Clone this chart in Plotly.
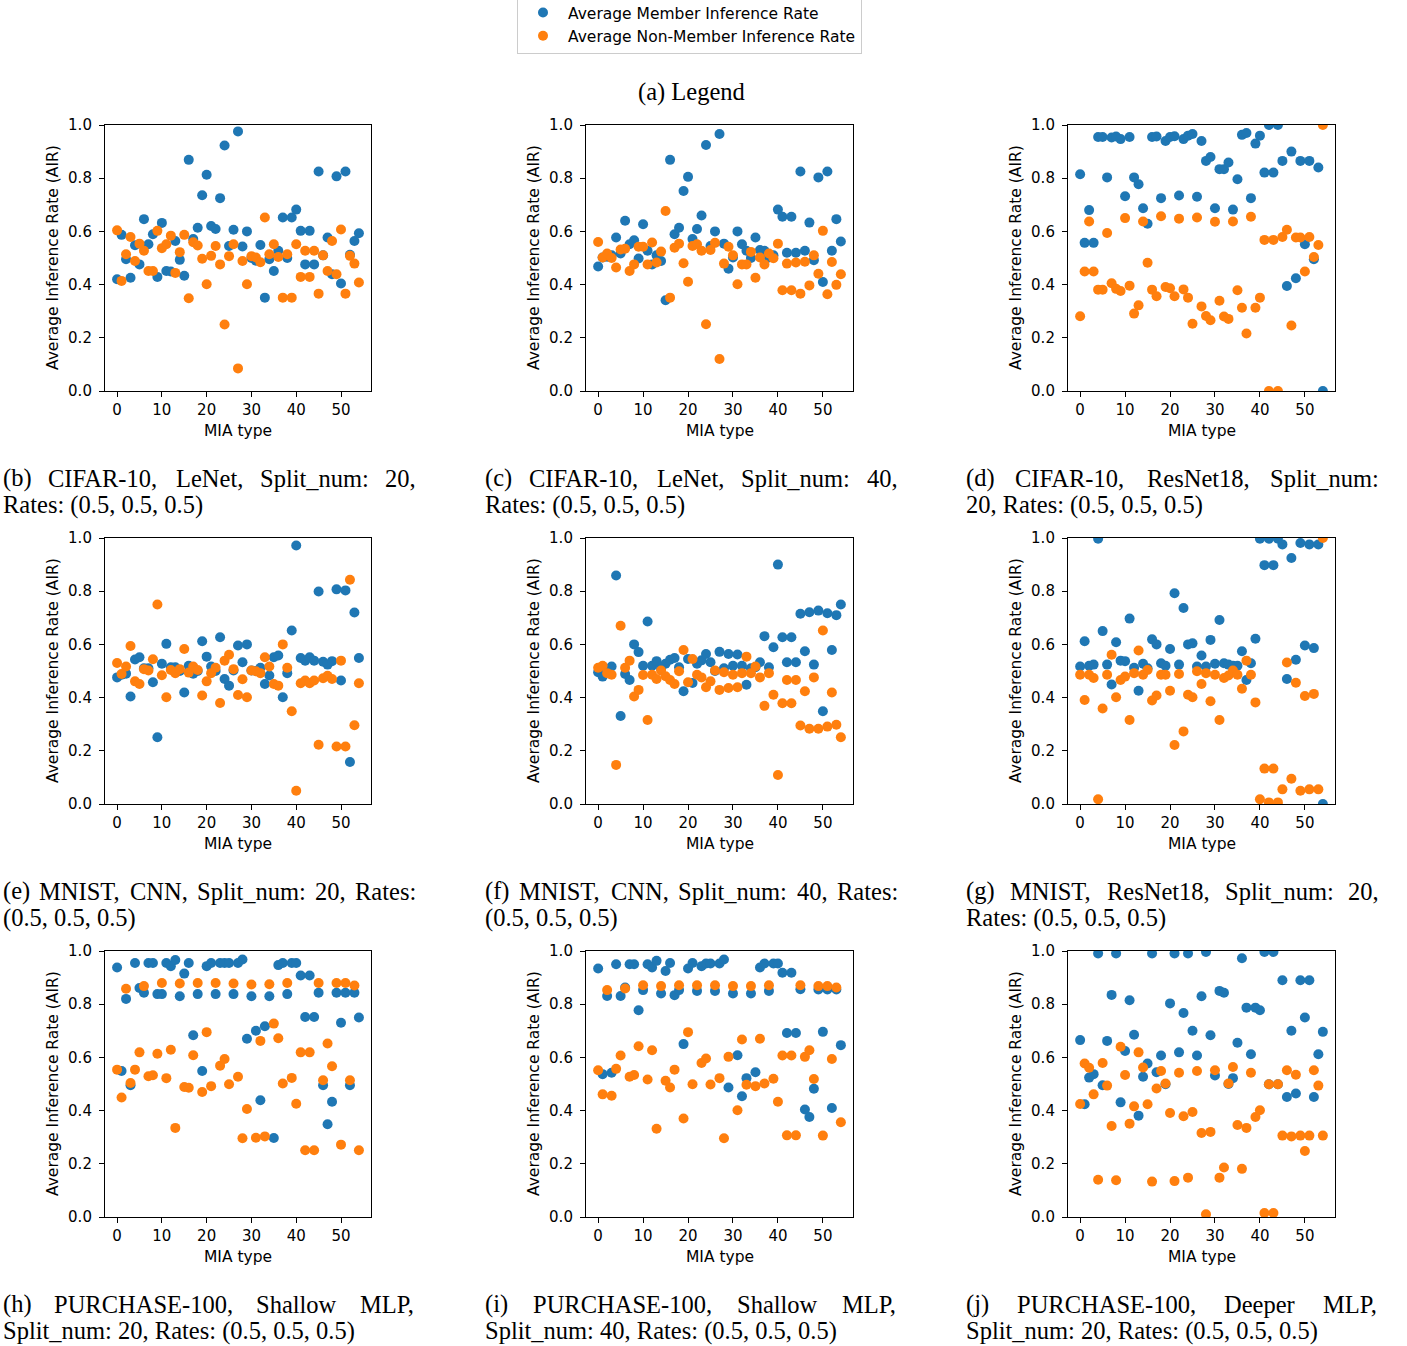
import plotly.graph_objects as go

# ---------------- data ----------------
mia_types = list(range(55))
x_ticks = [0, 10, 20, 30, 40, 50]
y_ticks = [0.0, 0.2, 0.4, 0.6, 0.8, 1.0]

series_names = ["Average Member Inference Rate", "Average Non-Member Inference Rate"]

b_member = [0.42, 0.587, 0.495, 0.426, 0.548, 0.476, 0.646, 0.552, 0.589, 0.429, 0.632, 0.451, 0.449, 0.564, 0.493,
            0.433, 0.869, 0.571, 0.614, 0.736, 0.813, 0.62, 0.609, 0.725, 0.923, 0.545, 0.606, 0.976, 0.543, 0.6,
            0.5, 0.49, 0.549, 0.351, 0.495, 0.451, 0.527, 0.652, 0.5, 0.652, 0.682, 0.602, 0.476, 0.602, 0.476,
            0.825, 0.51, 0.577, 0.439, 0.807, 0.404, 0.825, 0.512, 0.564, 0.593]
b_nonmember = [0.604, 0.414, 0.514, 0.579, 0.489, 0.554, 0.527, 0.451, 0.451, 0.602, 0.537, 0.552, 0.584, 0.444, 0.522,
               0.587, 0.349, 0.559, 0.547, 0.497, 0.401, 0.508, 0.545, 0.476, 0.25, 0.507, 0.552, 0.085, 0.489, 0.401,
               0.507, 0.502, 0.484, 0.652, 0.514, 0.552, 0.504, 0.351, 0.514, 0.351, 0.552, 0.429, 0.527, 0.429, 0.527,
               0.366, 0.51, 0.451, 0.564, 0.439, 0.607, 0.366, 0.508, 0.479, 0.408]

c_member = [0.468, 0.502, 0.505, 0.51, 0.577, 0.517, 0.64, 0.552, 0.567, 0.498, 0.627, 0.527, 0.476, 0.51, 0.489,
            0.341, 0.869, 0.589, 0.614, 0.752, 0.805, 0.571, 0.609, 0.66, 0.925, 0.545, 0.6, 0.966, 0.554, 0.46,
            0.502, 0.6, 0.552, 0.527, 0.5, 0.577, 0.53, 0.527, 0.502, 0.51, 0.682, 0.655, 0.52, 0.655, 0.52,
            0.825, 0.527, 0.633, 0.492, 0.803, 0.41, 0.825, 0.527, 0.646, 0.562]
c_nonmember = [0.56, 0.502, 0.517, 0.50, 0.464, 0.532, 0.535, 0.451, 0.476, 0.542, 0.542, 0.476, 0.558, 0.483, 0.524,
               0.677, 0.351, 0.539, 0.554, 0.48, 0.411, 0.545, 0.552, 0.527, 0.251, 0.53, 0.557, 0.12, 0.479, 0.542,
               0.51, 0.401, 0.476, 0.476, 0.523, 0.426, 0.502, 0.476, 0.517, 0.499, 0.554, 0.379, 0.479, 0.379, 0.483,
               0.366, 0.486, 0.397, 0.51, 0.441, 0.602, 0.364, 0.485, 0.399, 0.439]

d_member = [0.815, 0.557, 0.68, 0.557, 0.955, 0.955, 0.803, 0.953, 0.957, 0.947, 0.732, 0.955, 0.803, 0.777, 0.687,
            0.629, 0.955, 0.957, 0.725, 0.94, 0.955, 0.958, 0.735, 0.947, 0.96, 0.966, 0.73, 0.94, 0.865, 0.88,
            0.687, 0.834, 0.834, 0.859, 0.682, 0.796, 0.963, 0.97, 0.725, 0.93, 0.96, 0.821, 1.0, 0.821, 1.0,
            0.865, 0.395, 0.9, 0.424, 0.865, 0.552, 0.865, 0.495, 0.84, 0.0]
d_nonmember = [0.281, 0.449, 0.637, 0.449, 0.381, 0.381, 0.594, 0.405, 0.384, 0.376, 0.65, 0.396, 0.291, 0.322, 0.637,
               0.482, 0.381, 0.356, 0.657, 0.391, 0.386, 0.356, 0.648, 0.382, 0.351, 0.253, 0.652, 0.318, 0.282, 0.266,
               0.636, 0.339, 0.28, 0.271, 0.637, 0.379, 0.313, 0.216, 0.655, 0.313, 0.351, 0.568, 0.0, 0.568, 0.0,
               0.579, 0.606, 0.246, 0.577, 0.577, 0.449, 0.579, 0.504, 0.549, 1.0]

e_member = [0.476, 0.486, 0.49, 0.404, 0.543, 0.552, 0.51, 0.51, 0.458, 0.251, 0.527, 0.602, 0.514, 0.514, 0.50,
            0.419, 0.52, 0.49, 0.50, 0.612, 0.554, 0.517, 0.50, 0.627, 0.47, 0.445, 0.502, 0.596, 0.533, 0.6,
            0.502, 0.50, 0.512, 0.451, 0.483, 0.552, 0.558, 0.401, 0.492, 0.652, 0.972, 0.549, 0.539, 0.552, 0.539,
            0.799, 0.535, 0.524, 0.537, 0.807, 0.464, 0.803, 0.158, 0.72, 0.549]
e_nonmember = [0.53, 0.489, 0.517, 0.594, 0.461, 0.451, 0.507, 0.502, 0.544, 0.75, 0.484, 0.401, 0.504, 0.492, 0.507,
               0.583, 0.494, 0.517, 0.504, 0.408, 0.461, 0.492, 0.512, 0.38, 0.539, 0.561, 0.507, 0.41, 0.469, 0.401,
               0.502, 0.499, 0.492, 0.552, 0.517, 0.451, 0.445, 0.6, 0.512, 0.349, 0.05, 0.454, 0.464, 0.454, 0.464,
               0.223, 0.473, 0.482, 0.47, 0.216, 0.539, 0.216, 0.843, 0.296, 0.454]

f_member = [0.495, 0.479, 0.50, 0.517, 0.859, 0.331, 0.489, 0.466, 0.6, 0.571, 0.52, 0.686, 0.52, 0.537, 0.51,
            0.527, 0.542, 0.549, 0.514, 0.424, 0.545, 0.455, 0.527, 0.54, 0.564, 0.533, 0.50, 0.572, 0.51, 0.564,
            0.52, 0.562, 0.52, 0.448, 0.51, 0.514, 0.533, 0.631, 0.514, 0.589, 0.9, 0.627, 0.533, 0.627, 0.533,
            0.715, 0.574, 0.721, 0.524, 0.727, 0.349, 0.717, 0.579, 0.71, 0.75]
f_nonmember = [0.512, 0.52, 0.492, 0.486, 0.147, 0.67, 0.512, 0.539, 0.404, 0.429, 0.485, 0.316, 0.486, 0.47, 0.502,
               0.48, 0.466, 0.451, 0.499, 0.579, 0.458, 0.545, 0.486, 0.476, 0.439, 0.461, 0.502, 0.429, 0.495, 0.436,
               0.486, 0.439, 0.492, 0.554, 0.492, 0.517, 0.476, 0.369, 0.492, 0.411, 0.109, 0.379, 0.466, 0.379, 0.466,
               0.295, 0.424, 0.283, 0.476, 0.283, 0.652, 0.291, 0.419, 0.298, 0.251]

g_member = [0.517, 0.612, 0.52, 0.524, 0.997, 0.65, 0.524, 0.449, 0.608, 0.539, 0.537, 0.697, 0.512, 0.426, 0.527,
            0.51, 0.619, 0.6, 0.529, 0.52, 0.583, 0.792, 0.524, 0.737, 0.6, 0.604, 0.517, 0.558, 0.517, 0.617,
            0.527, 0.692, 0.529, 0.524, 0.52, 0.52, 0.574, 0.466, 0.529, 0.621, 0.997, 0.898, 0.997, 0.898, 0.997,
            0.976, 0.47, 0.925, 0.542, 0.981, 0.596, 0.976, 0.586, 0.976, 0.0]
g_nonmember = [0.486, 0.391, 0.486, 0.474, 0.018, 0.359, 0.486, 0.561, 0.401, 0.466, 0.479, 0.316, 0.492, 0.577, 0.486,
               0.504, 0.389, 0.408, 0.486, 0.486, 0.426, 0.222, 0.489, 0.273, 0.411, 0.401, 0.499, 0.451, 0.492, 0.386,
               0.486, 0.316, 0.474, 0.483, 0.502, 0.486, 0.433, 0.539, 0.486, 0.382, 0.018, 0.133, 0.006, 0.133, 0.006,
               0.055, 0.532, 0.095, 0.456, 0.05, 0.406, 0.055, 0.414, 0.055, 1.0]

h_member = [0.938, 0.549, 0.82, 0.495, 0.955, 0.861, 0.843, 0.955, 0.955, 0.838, 0.838, 0.955, 0.943, 0.966, 0.83,
            0.915, 0.955, 0.683, 0.838, 0.549, 0.943, 0.955, 0.838, 0.955, 0.955, 0.955, 0.838, 0.955, 0.968, 0.67,
            0.83, 0.7, 0.439, 0.717, 0.83, 0.297, 0.947, 0.955, 0.838, 0.955, 0.955, 0.908, 0.752, 0.908, 0.752,
            0.843, 0.495, 0.349, 0.433, 0.843, 0.73, 0.843, 0.495, 0.843, 0.75]
h_nonmember = [0.554, 0.449, 0.858, 0.504, 0.554, 0.619, 0.868, 0.529, 0.533, 0.614, 0.88, 0.522, 0.629, 0.335, 0.878,
               0.489, 0.486, 0.608, 0.88, 0.47, 0.695, 0.492, 0.88, 0.569, 0.594, 0.499, 0.878, 0.527, 0.296, 0.406,
               0.874, 0.298, 0.662, 0.303, 0.875, 0.727, 0.672, 0.502, 0.88, 0.523, 0.426, 0.619, 0.251, 0.619, 0.251,
               0.88, 0.514, 0.652, 0.567, 0.88, 0.272, 0.88, 0.514, 0.87, 0.251]

i_member = [0.934, 0.537, 0.831, 0.542, 0.95, 0.831, 0.863, 0.95, 0.95, 0.777, 0.853, 0.95, 0.938, 0.963, 0.84,
            0.925, 0.955, 0.834, 0.853, 0.65, 0.934, 0.955, 0.85, 0.943, 0.953, 0.953, 0.85, 0.953, 0.968, 0.487,
            0.84, 0.608, 0.454, 0.522, 0.84, 0.544, 0.938, 0.953, 0.85, 0.953, 0.953, 0.918, 0.692, 0.918, 0.692,
            0.856, 0.404, 0.376, 0.482, 0.855, 0.696, 0.855, 0.41, 0.855, 0.646]
i_nonmember = [0.552, 0.461, 0.853, 0.456, 0.557, 0.607, 0.859, 0.527, 0.534, 0.642, 0.871, 0.517, 0.627, 0.332, 0.868,
               0.512, 0.487, 0.554, 0.871, 0.37, 0.695, 0.499, 0.871, 0.579, 0.596, 0.498, 0.871, 0.522, 0.296, 0.602,
               0.868, 0.401, 0.667, 0.497, 0.868, 0.492, 0.67, 0.502, 0.871, 0.52, 0.433, 0.607, 0.307, 0.607, 0.307,
               0.871, 0.602, 0.627, 0.519, 0.868, 0.306, 0.868, 0.594, 0.863, 0.356]

j_member = [0.665, 0.424, 0.524, 0.537, 0.991, 0.495, 0.662, 0.835, 0.991, 0.431, 0.624, 0.815, 0.685, 0.381, 0.527,
            0.577, 0.991, 0.544, 0.607, 0.499, 0.803, 0.991, 0.619, 0.767, 0.991, 0.7, 0.607, 0.83, 0.996, 0.683,
            0.532, 0.85, 0.843, 0.50, 0.522, 0.655, 0.973, 0.787, 0.612, 0.787, 0.777, 0.996, 0.499, 0.996, 0.499,
            0.89, 0.451, 0.7, 0.464, 0.89, 0.75, 0.89, 0.451, 0.612, 0.696]
j_nonmember = [0.425, 0.577, 0.561, 0.461, 0.14, 0.579, 0.494, 0.342, 0.138, 0.64, 0.534, 0.351, 0.416, 0.619, 0.562,
               0.424, 0.133, 0.483, 0.549, 0.502, 0.391, 0.135, 0.542, 0.379, 0.148, 0.395, 0.549, 0.316, 0.01, 0.32,
               0.552, 0.148, 0.186, 0.502, 0.564, 0.346, 0.181, 0.335, 0.542, 0.376, 0.401, 0.015, 0.499, 0.015, 0.499,
               0.306, 0.552, 0.303, 0.535, 0.306, 0.248, 0.306, 0.552, 0.494, 0.306]

caption_line1 = [
    "(b) CIFAR-10, LeNet, Split_num: 20,",
    "(c) CIFAR-10, LeNet, Split_num: 40,",
    "(d) CIFAR-10, ResNet18, Split_num:",
    "(e) MNIST, CNN, Split_num: 20, Rates:",
    "(f) MNIST, CNN, Split_num: 40, Rates:",
    "(g) MNIST, ResNet18, Split_num: 20,",
    "(h) PURCHASE-100, Shallow MLP,",
    "(i) PURCHASE-100, Shallow MLP,",
    "(j) PURCHASE-100, Deeper MLP,",
]
caption_line2 = [
    "Rates: (0.5, 0.5, 0.5)",
    "Rates: (0.5, 0.5, 0.5)",
    "20, Rates: (0.5, 0.5, 0.5)",
    "(0.5, 0.5, 0.5)",
    "(0.5, 0.5, 0.5)",
    "Rates: (0.5, 0.5, 0.5)",
    "Split_num: 20, Rates: (0.5, 0.5, 0.5)",
    "Split_num: 40, Rates: (0.5, 0.5, 0.5)",
    "Split_num: 20, Rates: (0.5, 0.5, 0.5)",
]

panels = [
    (b_member, b_nonmember), (c_member, c_nonmember), (d_member, d_nonmember),
    (e_member, e_nonmember), (f_member, f_nonmember), (g_member, g_nonmember),
    (h_member, h_nonmember), (i_member, i_nonmember), (j_member, j_nonmember),
]

# ---------------- layout helpers ----------------
W, H = 1407, 1346
BLUE, ORANGE = "#1f77b4", "#ff7f0e"
SANS = "DejaVu Sans"
SERIF = "Liberation Serif"
CAP_SIZE = 24.5


def px(x):
    return x / W


def py(y):
    return 1 - y / H


col_px = [(105, 371), (586, 853), (1068, 1335)]
row_px = [(125, 391), (538, 804), (951, 1217)]
cap_col = [(1, 414), (483, 896), (964, 1377)]
cap_row = [(478, 505), (891, 918), (1304, 1331)]
ytitle_x = [53, 534, 1016]
xtitle_y = [431, 844, 1257]

TIMES = {" ": 250, "(": 333, ")": 333, ",": 250, ".": 250, ":": 278, "-": 333, "_": 500,
         "A": 722, "B": 667, "C": 667, "D": 722, "E": 611, "F": 556, "G": 722, "H": 722, "I": 333,
         "L": 611, "M": 889, "N": 722, "P": 556, "R": 667, "S": 556, "T": 611, "U": 722,
         "a": 444, "b": 500, "c": 444, "d": 500, "e": 444, "f": 333, "g": 500, "h": 500, "i": 278,
         "j": 278, "l": 278, "m": 778, "n": 500, "o": 500, "p": 500, "r": 333, "s": 389, "t": 278,
         "u": 500, "w": 722}


def tw(s, size):
    return sum(TIMES.get(ch, 500) for ch in s) / 1000.0 * size


fig = go.Figure()
annotations = []

for k, (mem, non) in enumerate(panels):
    r, c = divmod(k, 3)
    idx = "" if k == 0 else str(k + 1)
    xa, ya = "x" + idx, "y" + idx
    fig.add_trace(go.Scatter(x=mia_types, y=mem, mode="markers", name=series_names[0],
                             marker=dict(color=BLUE, size=10, line=dict(width=0)),
                             xaxis=xa, yaxis=ya, showlegend=(k == 0), legendgroup="m"))
    fig.add_trace(go.Scatter(x=mia_types, y=non, mode="markers", name=series_names[1],
                             marker=dict(color=ORANGE, size=10, line=dict(width=0)),
                             xaxis=xa, yaxis=ya, showlegend=(k == 0), legendgroup="n"))
    x0, x1 = col_px[c]
    y0, y1 = row_px[r]
    axis_common = dict(showline=True, linecolor="black", linewidth=1.1, mirror=True,
                       ticks="outside", ticklen=5, tickwidth=1.1, tickcolor="black",
                       showgrid=False, zeroline=False, automargin=False,
                       tickfont=dict(family=SANS, size=15, color="black"))
    fig.update_layout(**{
        "xaxis" + idx: dict(domain=[px(x0), px(x1)], anchor=ya, range=[-2.7, 56.7],
                            tickvals=x_ticks, ticktext=[str(v) for v in x_ticks], **axis_common),
        "yaxis" + idx: dict(domain=[py(y1), py(y0)], anchor=xa, range=[0, 1], ticklabelstandoff=4,
                            tickvals=y_ticks, ticktext=[f"{v:.1f}" for v in y_ticks], **axis_common),
    })
    # axis titles
    annotations.append(dict(text="MIA type", x=px((x0 + x1) / 2), y=py(xtitle_y[r]), xref="paper", yref="paper",
                            showarrow=False, xanchor="center", yanchor="middle",
                            font=dict(family=SANS, size=15.5, color="black")))
    annotations.append(dict(text="Average Inference Rate (AIR)", x=px(ytitle_x[c]), y=py((y0 + y1) / 2),
                            xref="paper", yref="paper", showarrow=False, textangle=-90,
                            xanchor="center", yanchor="middle",
                            font=dict(family=SANS, size=15.5, color="black")))
    # captions: first line justified, second line left aligned
    cx0, cx1 = cap_col[c]
    ly1, ly2 = cap_row[r]
    words = caption_line1[k].split(" ")
    widths = [tw(wd, CAP_SIZE) for wd in words]
    gap = (cx1 - cx0 - sum(widths)) / (len(words) - 1)
    pos = cx0
    for wd, wdw in zip(words, widths):
        annotations.append(dict(text=wd, x=px(pos), y=py(ly1), xref="paper", yref="paper",
                                showarrow=False, xanchor="left", yanchor="middle",
                                font=dict(family=SERIF, size=CAP_SIZE, color="black")))
        pos += wdw + gap
    annotations.append(dict(text=caption_line2[k], x=px(cx0), y=py(ly2), xref="paper", yref="paper",
                            showarrow=False, xanchor="left", yanchor="middle",
                            font=dict(family=SERIF, size=CAP_SIZE, color="black")))

annotations.append(dict(text="(a) Legend", x=px(691), y=py(92), xref="paper", yref="paper",
                        showarrow=False, xanchor="center", yanchor="middle",
                        font=dict(family=SERIF, size=CAP_SIZE, color="black")))

fig.update_layout(
    width=W, height=H,
    margin=dict(l=0, r=0, t=0, b=0, autoexpand=False),
    paper_bgcolor="white", plot_bgcolor="white",
    font=dict(family=SANS, color="black"),
    annotations=annotations,
    legend=dict(x=px(517), y=1.0 + 5 / H, xanchor="left", yanchor="top",
                bordercolor="#cccccc", borderwidth=1, bgcolor="white",
                font=dict(family=SANS, size=15.5, color="black"),
                itemwidth=40, tracegroupgap=0),
)

fig.write_html("out.html", config={"displayModeBar": False},
               post_script="document.body.style.margin='0px';document.body.style.overflow='hidden';")
